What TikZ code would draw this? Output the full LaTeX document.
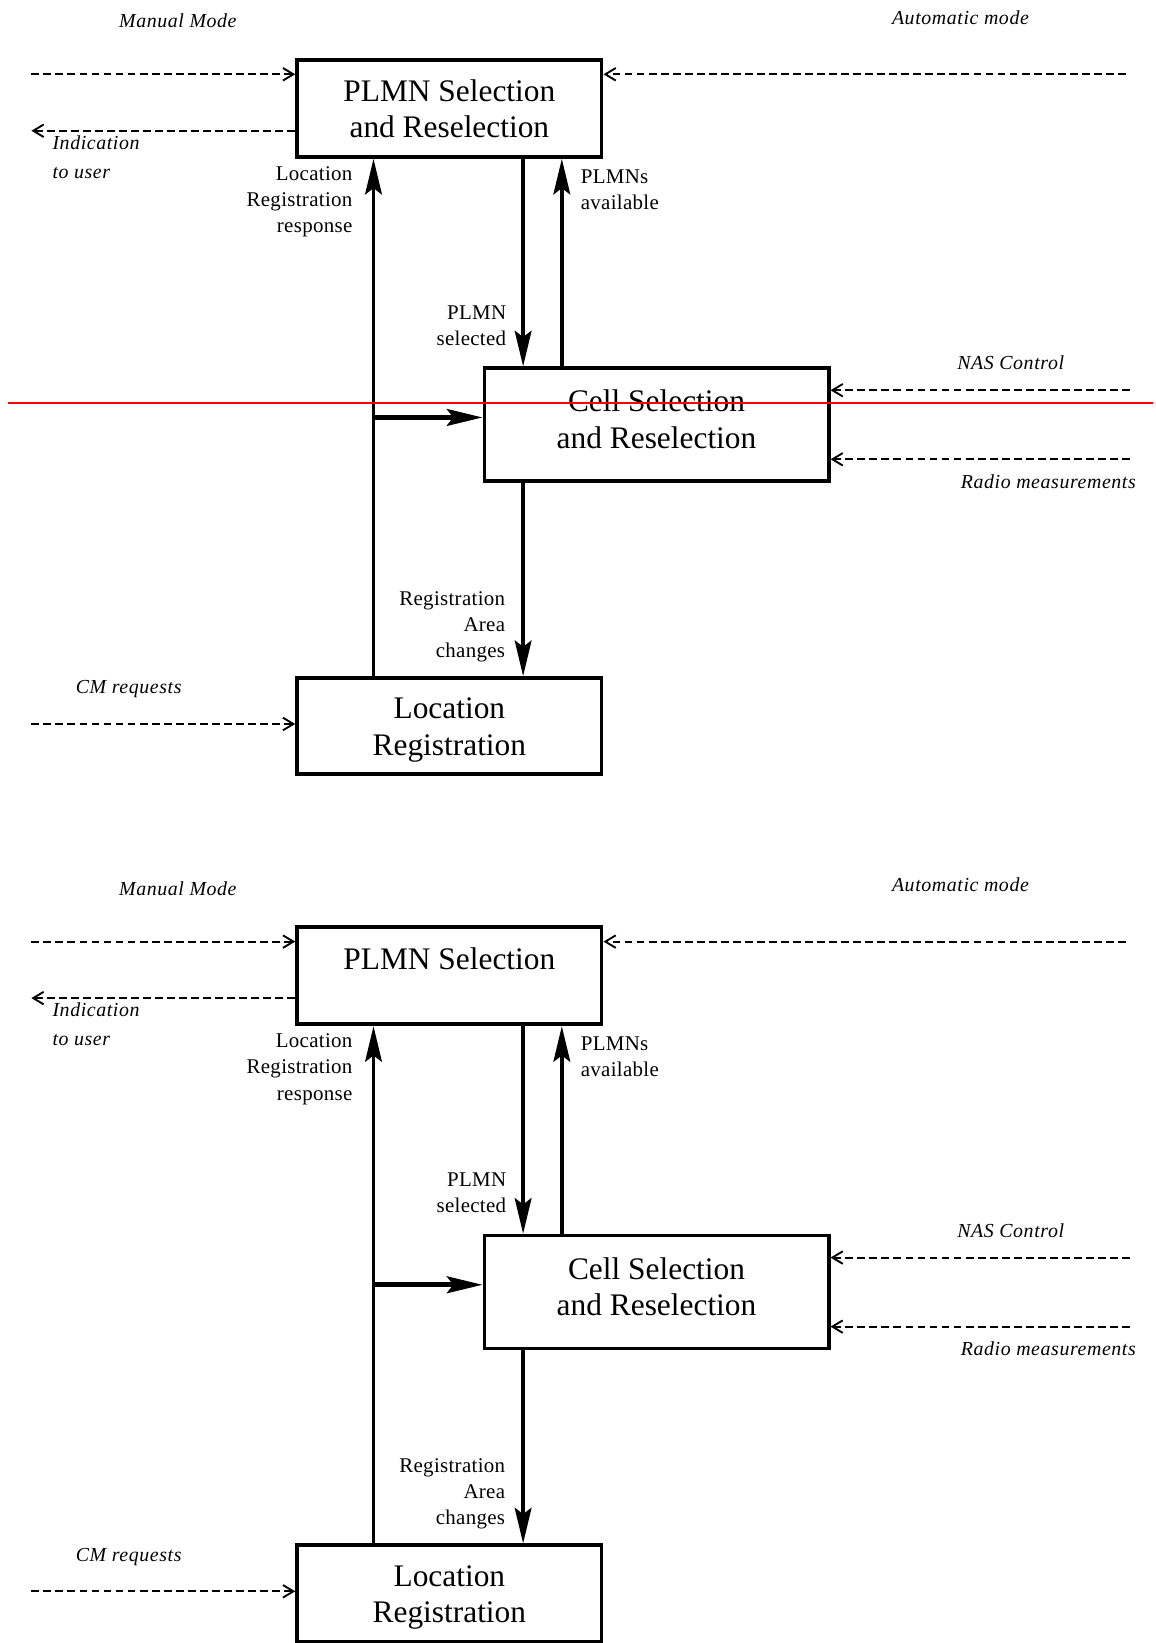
\documentclass[tikz,border=0pt]{standalone}
\usepackage{fontspec}
\setmainfont{Liberation Serif}
\usetikzlibrary{arrows.meta}
\tikzset{
  box/.style={draw, line width=3.6pt, rectangle, inner sep=0pt},
  title/.style={inner sep=0pt, align=center, font=\fontsize{30}{35}\selectfont},
  lbl/.style={inner sep=0pt, font=\fontsize{20}{25}\selectfont\addfontfeatures{LetterSpace=1.5}},
  itl/.style={inner sep=0pt, font=\fontsize{19}{28}\selectfont\itshape\addfontfeatures{LetterSpace=3}},
  sarrow/.style={line width=3.6pt, -{Stealth[length=34pt,width=16pt,inset=6pt]}},
  harrow/.style={line width=4.5pt, -{Stealth[length=34pt,width=16pt,inset=6pt]}},
  darrow/.style={line width=1.8pt, dash pattern=on 7.5pt off 4pt, -{Straight Barb[length=10pt,width=12pt]}},
  redline/.style={draw=red, line width=1.8pt}
}
\newcommand\mydiagram[4]{%
\begin{scope}[yshift=#2]
  % boxes
  \node[box, minimum width=291pt, minimum height=93pt] (#1plmn) at (429.5,103.5) {};
  \node[title] (#1plmnT) at (429.5,#4) {#3};
  \node[box, minimum width=329pt, minimum height=108pt] (#1cell) at (627.5,406) {};
  \node[title] (#1cellT) at (627.5,401) {Cell Selection\\and Reselection};
  \node[box, minimum width=291pt, minimum height=92pt] (#1lr) at (429.5,694) {};
  \node[title] (#1lrT) at (429.5,698) {Location\\Registration};
  % italic texts
  \node[itl] (#1manual) at (170,20) {Manual Mode};
  \node[itl] (#1auto) at (918,17) {Automatic mode};
  \node[itl, anchor=west, align=left] (#1indT) at (50,150) {Indication\\to user};
  \node[itl] (#1nasT) at (966,347) {NAS Control};
  \node[itl] (#1radT) at (1002,460) {Radio measurements};
  \node[itl] (#1cmT) at (123,659) {CM requests};
  % labels
  \node[lbl, anchor=east, align=right] (#1lrrT) at (337,193) {Location\\Registration\\response};
  \node[lbl, anchor=west, align=left] (#1availT) at (555,181) {PLMNs\\available};
  \node[lbl, anchor=east, align=right] (#1selT) at (484,311) {PLMN\\selected};
  \node[lbl, anchor=east, align=right] (#1racT) at (483,599) {Registration\\Area\\changes};
  % solid connectors
  \coordinate (#1xa) at (357,0);
  \coordinate (#1xb) at (500,0);
  \coordinate (#1xc) at (537,0);
  \coordinate (#1j) at (357,399);
  \draw[sarrow] (#1lr.north -| #1xa) -- (#1plmn.south -| #1xa);
  \draw[sarrow] (#1plmn.south -| #1xb) -- (#1cell.north -| #1xb);
  \draw[sarrow] (#1cell.north -| #1xc) -- (#1plmn.south -| #1xc);
  \draw[sarrow] (#1cell.south -| #1xb) -- (#1lr.north -| #1xb);
  \draw[harrow] (#1j) -- (#1cell.west |- #1j);
  % dashed connectors
  \coordinate (#1mm) at (30,71);
  \coordinate (#1ind) at (30,125);
  \coordinate (#1am) at (1076,71);
  \coordinate (#1nas) at (1080,373);
  \coordinate (#1rad) at (1080,439);
  \coordinate (#1cm) at (30,692);
  \draw[darrow] (#1mm) -- (#1plmn.west |- #1mm);
  \draw[darrow] (#1plmn.west |- #1ind) -- (#1ind);
  \draw[darrow] (#1am) -- (#1plmn.east |- #1am);
  \draw[darrow] (#1nas) -- (#1cell.east |- #1nas);
  \draw[darrow] (#1rad) -- (#1cell.east |- #1rad);
  \draw[darrow] (#1cm) -- (#1lr.west |- #1cm);
\end{scope}}
\begin{document}
\begin{tikzpicture}[x=1pt,y=-1pt]
  \useasboundingbox (0,0) rectangle (1104,1570.4);
  \mydiagram{a}{0pt}{PLMN Selection\\and Reselection}{104}
  \mydiagram{b}{-829pt}{PLMN Selection}{87}
  \coordinate (redL) at (8,385);
  \coordinate (redR) at (1102,385);
  \draw[redline] (redL) -- (redR);
\end{tikzpicture}
\end{document}
